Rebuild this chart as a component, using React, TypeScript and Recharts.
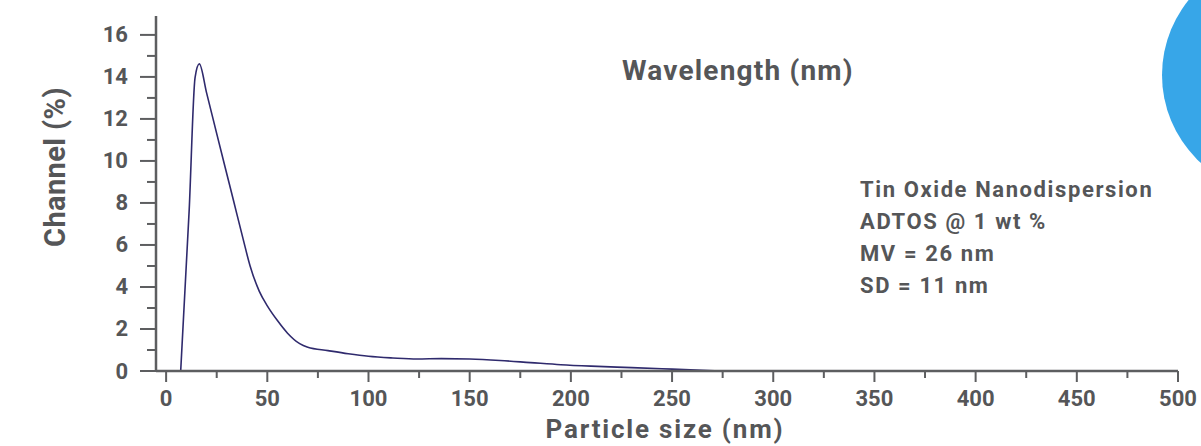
import React from "react";
import { LineChart, Line, XAxis, YAxis } from "recharts";

// Particle size (nm) and channel (%)
const sizes = [7.2, 11.4, 14.3, 16.4, 20, 25, 29, 33.2, 38, 41.5, 46, 50, 55, 60, 66, 70, 80, 90, 100, 112, 124, 136, 150, 165, 180, 195, 210, 230, 250, 274];
const channel = [0, 7.67, 13.97, 14.62, 13.24, 11.3, 9.76, 8.15, 6.3, 5.0, 3.8, 3.1, 2.4, 1.8, 1.3, 1.13, 0.97, 0.82, 0.7, 0.62, 0.57, 0.59, 0.57, 0.5, 0.4, 0.3, 0.23, 0.16, 0.09, 0];

const xTicks = [0, 25, 50, 75, 100, 125, 150, 175, 200, 225, 250, 275, 300, 325, 350, 375, 400, 425, 450, 475, 500];
const yTicks = [0, 1, 2, 3, 4, 5, 6, 7, 8, 9, 10, 11, 12, 13, 14, 15, 16];

const infoLines = ["Tin Oxide Nanodispersion", "ADTOS @ 1 wt %", "MV = 26 nm", "SD = 11 nm"];

const data = sizes.map((s, i) => ({ size: s, value: channel[i] }));

const AXIS = "#5d5e60";
const TEXT = "#555658";
const FONT = "Roboto, 'DejaVu Sans', sans-serif";

const YTick = (props: any) => {
  const { x, y, payload } = props;
  const v = payload.value;
  const major = v % 2 === 0;
  return (
    <g>
      <line x1={x - (major ? 16 : 9)} x2={x} y1={y} y2={y} stroke={AXIS} strokeWidth={2} />
      {major && (
        <text x={x - 28} y={y} textAnchor="end" dominantBaseline="central" fill={TEXT} fontFamily={FONT} fontWeight={700} fontSize={22}>
          {v}
        </text>
      )}
    </g>
  );
};

const XTick = (props: any) => {
  const { x, y, payload } = props;
  const v = payload.value;
  const major = v % 50 === 0;
  return (
    <g>
      <line x1={x} x2={x} y1={y} y2={y + (major ? 11 : 7)} stroke={AXIS} strokeWidth={2} />
      {major && (
        <text x={x} y={y + 27} textAnchor="middle" dominantBaseline="central" fill={TEXT} fontFamily={FONT} fontWeight={700} fontSize={22}>
          {v}
        </text>
      )}
    </g>
  );
};

export default function App() {
  return (
    <div style={{ position: "absolute", left: 0, top: 0, width: 1201, height: 446, overflow: "hidden", background: "#fff" }}>
      <LineChart width={1201} height={446} data={data} margin={{ top: 16, right: 23, left: 0, bottom: 0 }}>
        <XAxis
          dataKey="size"
          type="number"
          domain={[-5, 500]}
          ticks={xTicks}
          allowDataOverflow
          height={75}
          tickSize={0}
          tickMargin={0}
          tickLine={false}
          tick={<XTick />}
          interval={0}
          axisLine={{ stroke: AXIS, strokeWidth: 2.5 }}
          label={{
            content: (p: any) => {
              const vb = p.viewBox || { x: 156, width: 1022 };
              return (
                <text x={vb.x + vb.width / 2 - 2} y={429} textAnchor="middle" dominantBaseline="central" fill={TEXT} fontFamily={FONT} fontWeight={700} fontSize={26} letterSpacing={1.8}>
                  Particle size (nm)
                </text>
              );
            },
          }}
        />
        <YAxis
          type="number"
          domain={[0, 16.9]}
          ticks={yTicks}
          allowDataOverflow
          width={156}
          tickSize={0}
          tickMargin={0}
          tickLine={false}
          tick={<YTick />}
          interval={0}
          axisLine={{ stroke: AXIS, strokeWidth: 2.5 }}
          label={{
            content: () => (
              <text x={55} y={167} transform="rotate(-90 55 167)" textAnchor="middle" dominantBaseline="central" fill={TEXT} fontFamily={FONT} fontWeight={700} fontSize={29} letterSpacing={0.4}>
                Channel (%)
              </text>
            ),
          }}
        />
        <Line type="monotone" dataKey="value" stroke="#2f2a6d" strokeWidth={1.6} dot={false} isAnimationActive={false} />
      </LineChart>
      <div style={{ position: "absolute", left: 1162, top: -44, width: 238, height: 238, borderRadius: "50%", background: "#37a6e8" }} />
      <div style={{ position: "absolute", left: 622, top: 55, fontFamily: FONT, fontWeight: 700, fontSize: 28, color: TEXT, whiteSpace: "nowrap", lineHeight: "32px", letterSpacing: 1.2 }}>
        Wavelength (nm)
      </div>
      <div style={{ position: "absolute", left: 860, top: 174, fontFamily: FONT, fontWeight: 700, fontSize: 22, color: TEXT, whiteSpace: "nowrap", lineHeight: "32px", letterSpacing: 1.6 }}>
        {infoLines.map((t) => (
          <div key={t}>{t}</div>
        ))}
      </div>
    </div>
  );
}
